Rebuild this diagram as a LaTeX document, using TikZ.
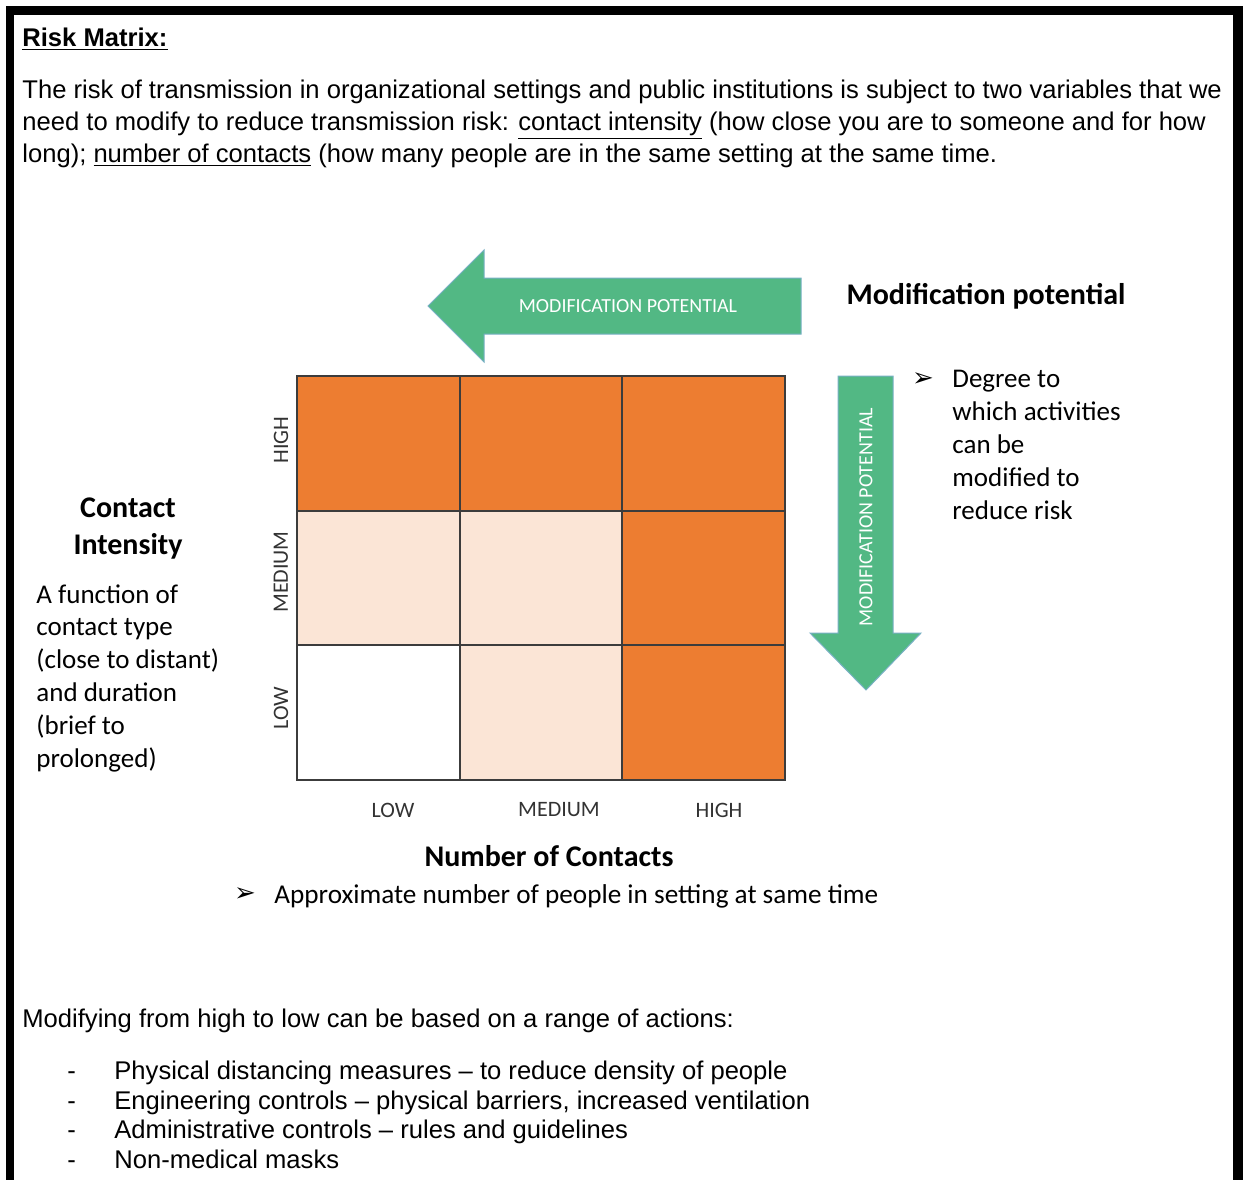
\documentclass[tikz,border=0pt]{standalone}
\usepackage{fontspec}
\usepackage{tikz}
\usetikzlibrary{positioning}

\newfontfamily\docfont{Liberation Sans}
\newfontfamily\calfont{Carlito}
\newfontfamily\symfont{DejaVu Sans}

\definecolor{mpgreen}{RGB}{82,184,132}
\definecolor{mpedge}{RGB}{120,176,196}
\definecolor{riskhigh}{RGB}{237,125,49}
\definecolor{riskmid}{RGB}{251,229,214}
\definecolor{gridline}{RGB}{60,60,60}

\begin{document}
\begin{tikzpicture}[x=0.5pt,y=-0.5pt,
    doc/.style={font=\docfont\fontsize{12.8}{16}\selectfont, inner sep=0pt, align=left},
    bodytxt/.style={font=\calfont\fontsize{13.5}{16.4}\selectfont, inner sep=0pt, align=left},
    headtxt/.style={font=\calfont\bfseries\fontsize{15}{18.5}\selectfont, inner sep=0pt, align=center},
    axislbl/.style={font=\calfont\fontsize{11}{13}\selectfont, text=black!80, inner sep=0pt},
    arrowlbl/.style={font=\calfont\fontsize{10}{12}\selectfont, text=white, inner sep=0pt},
    mparrow/.style={fill=mpgreen, draw=mpedge, line width=0.5pt},
    cell/.style={draw=gridline, line width=0.9pt},
    tick/.style={font=\symfont\fontsize{13}{15}\selectfont, inner sep=0pt}]
  \useasboundingbox (0,0) rectangle (1243,1180);
  \fill[black] (6,6) rectangle (1243,1180);
  \fill[white] (14,15) rectangle (1233,1180);

  \node[doc, anchor=base west] (title) at (22,46) {\bfseries\underline{Risk Matrix:}};
  \node[doc, anchor=base west] (intro) at (22,162)
    {The risk of transmission in organizational settings and public institutions is subject to two variables that we\\
     need to modify to reduce transmission risk: \underline{contact intensity} (how close you are to someone and for how\\
     long); \underline{number of contacts} (how many people are in the same setting at the same time.};

  \draw[mparrow] (428,306) -- (484,250) -- (484,278) -- (801,278) -- (801,334) -- (484,334) -- (484,362) -- cycle;
  \node[arrowlbl] (harrowlbl) at (628,306) {MODIFICATION POTENTIAL};
  \node[headtxt] (modhead) at (986,296) {Modification potential};

  \draw[mparrow] (838,376) -- (893,376) -- (893,633) -- (921,633) -- (866,690) -- (810,633) -- (838,633) -- cycle;
  \node[arrowlbl, rotate=90] (varrowlbl) at (866,517) {MODIFICATION POTENTIAL};
  \node[tick] (modtick) at (923,380) {➢};
  \node[bodytxt, anchor=base west] (moddesc) at (952,519)
    {Degree to\\ which activities\\ can be\\ modified to\\ reduce risk};

  \foreach \c/\r/\col in {0/0/riskhigh, 1/0/riskhigh, 2/0/riskhigh,
                          0/1/riskmid, 1/1/riskmid, 2/1/riskhigh,
                          0/2/white, 1/2/riskmid, 2/2/riskhigh}
    \filldraw[cell, fill=\col] (297+162.67*\c, 376+134.67*\r) rectangle ++(162.67,134.67);

  \node[axislbl, rotate=90] (rowhigh) at (281,440) {HIGH};
  \node[axislbl, rotate=90] (rowmed) at (281,572) {MEDIUM};
  \node[axislbl, rotate=90] (rowlow) at (281,708) {LOW};
  \node[axislbl] (collow) at (393,810) {LOW};
  \node[axislbl] (colmed) at (559,810) {MEDIUM};
  \node[axislbl] (colhigh) at (719,810) {HIGH};

  \node[headtxt] (numhead) at (549,856) {Number of Contacts};
  \node[tick] (numtick) at (245,895) {➢};
  \node[bodytxt, font=\calfont\fontsize{13.6}{16.4}\selectfont, anchor=west] (numdesc) at (274,896)
    {Approximate number of people in setting at same time};

  \node[headtxt] (inthead) at (128,529) {Contact\\ Intensity};
  \node[bodytxt, anchor=base west] (intdesc) at (36,767)
    {A function of\\ contact type\\ (close to distant)\\ and duration\\ (brief to\\ prolonged)};

  \node[doc, anchor=base west] (actions) at (22,1027) {Modifying from high to low can be based on a range of actions:};
  \foreach \txt [count=\i] in {Physical distancing measures – to reduce density of people,
                               {Engineering controls – physical barriers, increased ventilation},
                               Administrative controls – rules and guidelines,
                               Non-medical masks}
  {
    \node[doc, anchor=base west] (dash\i) at (67,1050+29.5*\i) {-};
    \node[doc, anchor=base west] (item\i) at (114,1050+29.5*\i) {\txt};
  }
\end{tikzpicture}
\end{document}
